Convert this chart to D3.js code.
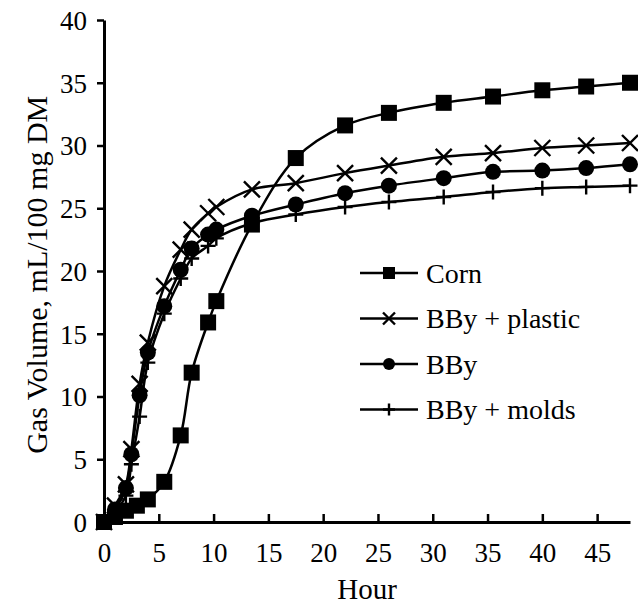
<!DOCTYPE html>
<html>
<head>
<meta charset="utf-8">
<script src="https://cdn.jsdelivr.net/npm/d3@7"></script>
<style>
  body { margin: 0; background: #fff; }
  text { font-family: 'Liberation Serif', 'Times New Roman', serif; fill: #000; }
</style>
</head>
<body>
<div id="chart"></div>
<script>
const WIDTH = 638;
const HEIGHT = 604;
const margin = { top: 20, right: 8, bottom: 82, left: 104 };
const width = WIDTH - margin.left - margin.right;
const height = HEIGHT - margin.top - margin.bottom;

// sampling times (hours)
const hoursCorn = [0, 1, 2, 3, 4, 5.5, 7, 8, 9.5, 10.25, 13.5, 17.5, 22, 26, 31, 35.5, 40, 44, 48];
const hoursBBy = [0, 1, 2, 2.5, 3.25, 4, 5.5, 7, 8, 9.5, 10.25, 13.5, 17.5, 22, 26, 31, 35.5, 40, 44, 48];

const corn = [0, 0.4, 0.9, 1.3, 1.8, 3.2, 6.9, 11.9, 15.9, 17.6, 23.7, 29.0, 31.6, 32.6, 33.4, 33.9, 34.4, 34.7, 35.0];
const bbyPlastic = [0, 1.3, 3.0, 5.8, 11.0, 14.3, 18.8, 21.7, 23.3, 24.6, 25.1, 26.5, 27.0, 27.8, 28.4, 29.1, 29.4, 29.8, 30.0, 30.2];
const bby = [0, 1.0, 2.7, 5.4, 10.1, 13.5, 17.2, 20.1, 21.8, 22.9, 23.3, 24.4, 25.3, 26.2, 26.8, 27.4, 27.9, 28.0, 28.2, 28.5];
const bbyMolds = [0, 0.8, 2.1, 4.6, 8.4, 12.7, 16.6, 19.4, 21.0, 22.0, 22.6, 23.8, 24.5, 25.1, 25.5, 25.9, 26.3, 26.6, 26.7, 26.8];

const seriesNames = ['Corn', 'BBy + plastic', 'BBy', 'BBy + molds'];
const markerTypes = ['square', 'cross', 'circle', 'plus'];

const xTicks = [0, 5, 10, 15, 20, 25, 30, 35, 40, 45];
const yTicks = [0, 5, 10, 15, 20, 25, 30, 35, 40];

const series = [
  { name: seriesNames[0], marker: markerTypes[0], hours: hoursCorn, values: corn },
  { name: seriesNames[1], marker: markerTypes[1], hours: hoursBBy, values: bbyPlastic },
  { name: seriesNames[2], marker: markerTypes[2], hours: hoursBBy, values: bby },
  { name: seriesNames[3], marker: markerTypes[3], hours: hoursBBy, values: bbyMolds },
];

const svg = d3.select('#chart').append('svg')
  .attr('width', WIDTH)
  .attr('height', HEIGHT);

const g = svg.append('g')
  .attr('transform', `translate(${margin.left},${margin.top})`);

const x = d3.scaleLinear().domain([0, 48]).range([0, width]);
const y = d3.scaleLinear().domain([0, 40]).range([height, 0]);

const line = d3.line()
  .x(d => x(d.h))
  .y(d => y(d.v))
  .curve(d3.curveCatmullRom.alpha(0.5));

function drawMarker(sel, type, size) {
  const s = size;
  if (type === 'square') {
    sel.append('rect')
      .attr('x', -s / 2).attr('y', -s / 2)
      .attr('width', s).attr('height', s)
      .attr('fill', '#000');
  } else if (type === 'circle') {
    sel.append('circle').attr('r', s / 2).attr('fill', '#000');
  } else if (type === 'cross') {
    const a = s / 2;
    sel.append('path')
      .attr('d', `M${-a},${-a}L${a},${a}M${-a},${a}L${a},${-a}`)
      .attr('stroke', '#000').attr('stroke-width', 2.4).attr('fill', 'none');
  } else {
    const a = s / 2;
    sel.append('path')
      .attr('d', `M${-a},0L${a},0M0,${-a}L0,${a}`)
      .attr('stroke', '#000').attr('stroke-width', 2.4).attr('fill', 'none');
  }
}

const markerSize = { square: 16, cross: 16, circle: 16, plus: 15 };

// draw from last to first so corn squares stay on top
series.slice().reverse().forEach(s => {
  const pts = s.hours.map((h, i) => ({ h: h, v: s.values[i] }));
  g.append('path')
    .datum(pts)
    .attr('fill', 'none')
    .attr('stroke', '#000')
    .attr('stroke-width', 2.5)
    .attr('d', line);
  pts.forEach(p => {
    const m = g.append('g').attr('transform', `translate(${x(p.h)},${y(p.v)})`);
    drawMarker(m, s.marker, markerSize[s.marker]);
  });
});

// axes
const xAxis = g.append('g')
  .attr('transform', `translate(0,${height})`)
  .call(d3.axisBottom(x).tickValues(xTicks).tickSizeInner(-8).tickSizeOuter(0).tickPadding(24));
const yAxis = g.append('g')
  .call(d3.axisLeft(y).tickValues(yTicks).tickSizeInner(7).tickSizeOuter(0).tickPadding(10));

[xAxis, yAxis].forEach(ax => {
  ax.select('.domain').attr('stroke', '#000').attr('stroke-width', 3);
  ax.selectAll('.tick line').attr('stroke', '#000').attr('stroke-width', 2.5);
  ax.selectAll('.tick text')
    .style('font-family', "'Liberation Serif', 'Times New Roman', serif")
    .style('font-size', '27px')
    .attr('fill', '#000');
});
yAxis.selectAll('.tick text').attr('dy', '0.35em');
xAxis.selectAll('.tick text').attr('dy', '0.6em');

// axis titles
svg.append('text')
  .attr('x', margin.left + x(24))
  .attr('y', 599)
  .attr('text-anchor', 'middle')
  .style('font-size', '29px')
  .text('Hour');

svg.append('text')
  .attr('transform', `translate(47,${margin.top + y(19.7)}) rotate(-90)`)
  .attr('text-anchor', 'middle')
  .style('font-size', '30px')
  .text('Gas Volume, mL/100 mg DM');

// legend
const legend = svg.append('g').attr('transform', 'translate(360,273)');
series.forEach((s, i) => {
  const row = legend.append('g').attr('transform', `translate(0,${i * 45.5})`);
  row.append('line')
    .attr('x1', 0).attr('x2', 58).attr('y1', 0).attr('y2', 0)
    .attr('stroke', '#000').attr('stroke-width', 2.5);
  const m = row.append('g').attr('transform', 'translate(29,0)');
  drawMarker(m, s.marker, 12);
  row.append('text')
    .attr('x', 66)
    .attr('y', 0)
    .attr('dy', '0.35em')
    .style('font-size', '28px')
    .text(s.name);
});
</script>
</body>
</html>
